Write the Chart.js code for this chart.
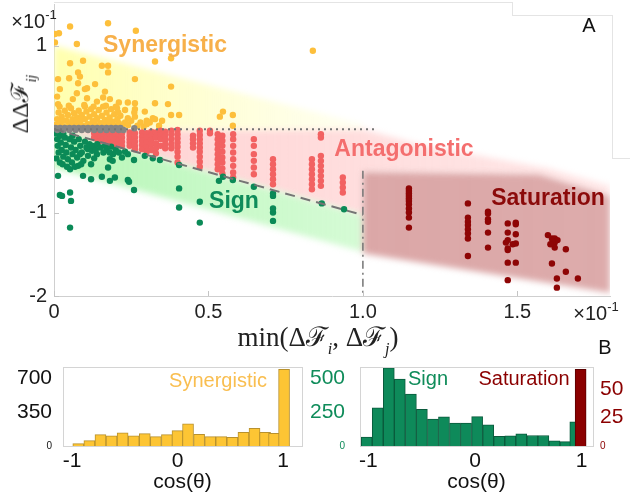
<!DOCTYPE html>
<html>
<head>
<meta charset="utf-8">
<script src="https://cdn.jsdelivr.net/npm/chart.js@4.4.1/dist/chart.umd.min.js"></script>
<style>
  body { margin: 0; background: #fff; }
  #wrap { position: relative; width: 630px; height: 496px; overflow: hidden; font-family: "Liberation Sans", Arial, sans-serif; }
  canvas { position: absolute; }
  .lbl { position: absolute; white-space: nowrap; transform: translate(-50%, -50%); line-height: 1; }
  .sup { font-size: 13px; position: relative; top: -9px; }
  .math { font-family: "Liberation Serif", "DejaVu Serif", serif; color: #222; }
  .math sub { font-size: 60%; font-style: italic; position: relative; top: 2px; }
  .frame { position: absolute; border-color: #e4e4e4; border-style: solid; border-width: 0; }
</style>
</head>
<body>
<div id="wrap">
  <canvas id="main" width="630" height="330" style="left:0;top:0"></canvas>
  <canvas id="histL" width="315" height="141" style="left:0;top:355px"></canvas>
  <canvas id="histR" width="330" height="141" style="left:300px;top:355px"></canvas>

  <div class="frame" style="left:54px;top:2px;width:458px;height:13px;border-top-width:1px;border-right-width:1px"></div>
  <div class="frame" style="left:512px;top:15px;width:100px;height:143px;border-top-width:1px;border-right-width:1px"></div>
  <div class="frame" style="left:612px;top:158px;width:18px;height:0;border-top-width:1px"></div>

  <div class="lbl" style="left:34px;top:21px;font-size:20px;color:#222">×10<span class="sup">-1</span></div>
  <div class="lbl" style="left:596px;top:313px;font-size:20px;color:#222">×10<span class="sup">-1</span></div>
  <div class="lbl" style="left:589px;top:25px;font-size:20px;color:#111">A</div>
  <div class="lbl" style="left:605px;top:347px;font-size:20px;color:#111">B</div>

  <div class="lbl math" style="left:22px;top:104px;font-size:24px;transform:translate(-50%,-50%) rotate(-90deg)">ΔΔℱ<sub>ij</sub></div>
  <div class="lbl math" style="left:318px;top:340px;font-size:27px">min(Δℱ<sub>i</sub>, Δℱ<sub>j</sub>)</div>

  <div class="lbl" style="left:165px;top:44px;font-size:23px;font-weight:bold;color:#F7B04A">Synergistic</div>
  <div class="lbl" style="left:404px;top:148px;font-size:23px;font-weight:bold;color:#F46E6E">Antagonistic</div>
  <div class="lbl" style="left:234px;top:200px;font-size:23px;font-weight:bold;color:#0F8C5A">Sign</div>
  <div class="lbl" style="left:548px;top:197px;font-size:23px;font-weight:bold;color:#8B0A0A">Saturation</div>

  <div class="lbl" style="left:218px;top:380px;font-size:20px;color:#F9BE50">Synergistic</div>
  <div class="lbl" style="left:428px;top:378px;font-size:20px;color:#0F8C5A">Sign</div>
  <div class="lbl" style="left:524px;top:378px;font-size:20px;color:#8B0000">Saturation</div>
</div>

<script>
// axis ticks
const mainXTicks = [0, 0.5, 1, 1.5];
const mainYTicks = [-2, -1, 1];
const histXTicks = [-1, 0, 1];
const synHistTicks = [0, 350, 700];
const signHistTicks = [0, 250, 500];
const satHistTicks = [0, 25, 50];

// histogram bins (cos theta) and counts
const synBins = [-0.94, -0.835, -0.73, -0.625, -0.52, -0.415, -0.31, -0.205, -0.10, 0.0,
                 0.10, 0.205, 0.31, 0.415, 0.52, 0.625, 0.73, 0.83, 0.915, 1.01];
const synCounts = [24, 55, 117, 106, 137, 106, 127, 96, 117, 158,
                   230, 120, 96, 96, 89, 141, 182, 141, 130, 790];
const signBins = [-1.015, -0.912, -0.808, -0.705, -0.601, -0.498, -0.394, -0.291, -0.187, -0.084,
                  0.020, 0.124, 0.227, 0.331, 0.434, 0.538, 0.641, 0.745, 0.848, 0.94];
const signCounts = [66, 282, 578, 495, 385, 272, 199, 216, 169, 169,
                    218, 157, 71, 76, 90, 78, 78, 39, 32, 179];
const satBins = [0.99];
const satCounts = [67];

// region outlines (min dF, ddF)
const synergyBand = [[0, 0], [0, 1.0], [1.0, 0.06], [1.0, 0]];
const antagonismBand = [[0, 0], [1.0, 0], [1.2, -0.2], [1.6, -0.47], [1.8, -0.68], [1.8, -0.8],
                        [1.57, -0.54], [1.0, -0.51], [1.0, -1.03]];
const signBand = [[0, 0], [1.0, -1.03], [1.0, -1.47], [0, -0.46]];
const saturationBand = [[1.0, -0.51], [1.57, -0.54], [1.8, -0.8], [1.8, -1.96], [1.0, -1.49]];

// guide lines
const zeroLine = [[0, 0], [1.04, 0]];
const diagLine = [[0, 0], [1.0, -1.03]];
const cutLine = [[1.0, -0.5], [1.0, -2]];

// scatter points
const synergisticPts = [
  [0.003,1.14],[0.016,1.15],[0.052,1.23],[0.175,1.27],[0.265,1.18],[0.003,1.04],[0.074,1.02],[0.838,0.94],
  [0.052,0.79],[0.094,0.82],[0.155,0.76],[0.175,0.76],[0.175,0.68],[0.078,0.68],[0.084,0.63],[0.013,0.60],
  [0.049,0.61],[0.262,0.60],[0.327,0.81],[0.379,0.85],[0.379,0.51],[0.369,0.30],[0.078,0.55],[0.133,0.54],
  [0.107,0.49],[0.10,0.48],[0.019,0.48],[0.074,0.43],[0.165,0.45],[0.159,0.38],[0.01,0.39],[0.107,0.37],
  [0.139,0.33],[0.061,0.36],[0.21,0.32],[0.239,0.32],[0.262,0.31],[0.327,0.31],[0.181,0.36],[0.013,0.30],
  [0.10,0.27],[0.159,0.27],[0.204,0.25],[0.262,0.24],[0.23,0.23],[0.294,0.21],[0.32,0.13],[0.30,0.10],
  [0.239,0.13],[0.262,0.15],[0.379,0.17],[0.405,0.17],[0.547,0.21],[0.537,0.15],[0.579,0.17],[0.579,0.04],
  [0.31,0.08],[0.327,0.12],
  [0.005,0.05],[0.01,0.12],[0.015,0.2],[0.02,0.08],[0.025,0.15],[0.03,0.03],[0.035,0.22],[0.04,0.1],
  [0.045,0.17],[0.05,0.05],[0.055,0.25],[0.06,0.12],[0.065,0.19],[0.07,0.04],[0.075,0.14],[0.08,0.22],
  [0.085,0.08],[0.09,0.17],[0.095,0.03],[0.1,0.12],[0.105,0.21],[0.11,0.06],[0.115,0.15],[0.12,0.24],
  [0.125,0.09],[0.13,0.18],[0.135,0.04],[0.14,0.13],[0.145,0.23],[0.15,0.07],[0.155,0.16],[0.16,0.03],
  [0.165,0.11],[0.17,0.2],[0.175,0.06],[0.18,0.14],[0.185,0.24],[0.19,0.09],[0.195,0.18],[0.2,0.04],
  [0.205,0.12],[0.21,0.07],[0.215,0.16],[0.22,0.03],[0.012,0.03],[0.028,0.1],[0.042,0.02],[0.058,0.08],
  [0.072,0.1],[0.088,0.12],[0.102,0.04],[0.118,0.05],[0.132,0.1],[0.148,0.02],[0.162,0.08],[0.178,0.1],
  [0.192,0.03],[0.208,0.2],[0.018,0.27],[0.048,0.28],[0.098,0.29],[0.128,0.27],[0.168,0.28],[0.2,0.27],
  [0.23,0.08],[0.24,0.05],[0.25,0.1],[0.27,0.04],[0.28,0.08],[0.26,0.2],[0.29,0.03],[0.3,0.06],
  [0.34,0.04],[0.35,0.1]
];

const neutralPts = [
  [0.005,0.015],[0.02,0.015],[0.035,0.015],[0.05,0.015],[0.065,0.015],[0.08,0.015],[0.095,0.015],[0.11,0.015],
  [0.125,0.015],[0.14,0.015],[0.155,0.015],[0.17,0.015],[0.185,0.015],[0.2,0.015],[0.215,0.015],[0.26,0.01],
  [0.01,-0.01],[0.03,-0.01],[0.05,-0.01],[0.07,-0.01],[0.09,-0.01],[0.11,-0.01],[0.13,-0.01],[0.15,-0.01],
  [0.17,-0.01],[0.19,-0.01],[0.21,-0.01],[0.225,-0.01]
];

const antagonisticPts = [
  [0.13,-0.05],[0.13,-0.1],[0.14,-0.06],[0.14,-0.12],[0.15,-0.05],[0.15,-0.1],[0.15,-0.14],
  [0.16,-0.06],[0.16,-0.12],[0.17,-0.05],[0.17,-0.1],[0.17,-0.15],[0.18,-0.06],[0.18,-0.12],[0.18,-0.17],
  [0.19,-0.05],[0.19,-0.1],[0.19,-0.15],[0.2,-0.06],[0.2,-0.12],[0.2,-0.18],[0.21,-0.07],[0.21,-0.13],
  [0.21,-0.19],[0.22,-0.05],[0.22,-0.1],[0.22,-0.15],[0.22,-0.2],
  [0.245,-0.04],[0.245,-0.08],[0.245,-0.12],[0.245,-0.16],[0.245,-0.2],
  [0.262,-0.05],[0.262,-0.1],[0.262,-0.15],[0.262,-0.2],[0.262,-0.24],
  [0.285,-0.04],[0.285,-0.09],[0.285,-0.14],[0.285,-0.19],[0.285,-0.24],
  [0.3,-0.05],[0.3,-0.1],[0.3,-0.16],[0.3,-0.22],[0.3,-0.27],
  [0.315,-0.03],[0.315,-0.08],[0.315,-0.13],[0.315,-0.18],[0.315,-0.25],
  [0.33,-0.04],[0.33,-0.1],[0.33,-0.17],[0.33,-0.23],[0.33,-0.29],
  [0.345,-0.02],[0.345,-0.07],[0.345,-0.12],[0.345,-0.2],
  [0.36,-0.03],[0.36,-0.08],[0.36,-0.13],[0.36,-0.18],[0.36,-0.23],
  [0.38,-0.02],[0.38,-0.06],[0.38,-0.12],[0.38,-0.18],[0.38,-0.23],
  [0.40,-0.01],[0.40,-0.06],[0.40,-0.11],[0.40,-0.16],[0.40,-0.21],[0.40,-0.27],[0.40,-0.33],[0.40,-0.40],
  [0.45,-0.08],[0.45,-0.12],[0.45,-0.17],[0.45,-0.22],
  [0.472,-0.02],[0.472,-0.07],[0.472,-0.12],[0.472,-0.17],[0.472,-0.22],[0.472,-0.27],[0.472,-0.33],
  [0.472,-0.39],[0.472,-0.45],[0.505,-0.02],[0.505,-0.05],
  [0.53,-0.06],[0.53,-0.12],[0.53,-0.18],[0.53,-0.24],[0.53,-0.3],[0.53,-0.36],[0.53,-0.42],[0.53,-0.48],
  [0.545,-0.08],[0.545,-0.14],[0.545,-0.2],[0.545,-0.27],[0.545,-0.34],[0.545,-0.4],[0.545,-0.47],[0.545,-0.53],
  [0.58,-0.06],[0.58,-0.12],[0.58,-0.2],[0.58,-0.28],[0.58,-0.36],[0.58,-0.44],[0.58,-0.52],[0.58,-0.58],
  [0.647,-0.12],[0.647,-0.2],[0.647,-0.3],[0.647,-0.38],[0.647,-0.46],[0.647,-0.54],
  [0.709,-0.36],[0.709,-0.42],[0.709,-0.48],[0.709,-0.54],[0.709,-0.6],[0.709,-0.66],
  [0.835,-0.36],[0.835,-0.42],[0.835,-0.48],[0.835,-0.54],[0.835,-0.6],[0.835,-0.66],[0.835,-0.72],
  [0.864,-0.06],[0.864,-0.1],[0.864,-0.32],[0.864,-0.38],[0.864,-0.44],[0.864,-0.5],[0.864,-0.56],
  [0.864,-0.62],[0.864,-0.68],
  [0.935,-0.58],[0.935,-0.64],[0.935,-0.7],[0.935,-0.76]
];

const signPts = [
  [0.013,-0.56],[0.019,-0.79],[0.026,-0.80],[0.052,-0.76],[0.055,-0.86],[0.052,-1.18],[0.094,-0.56],
  [0.12,-0.60],[0.155,-0.57],[0.181,-0.62],[0.197,-0.58],[0.175,-0.46],[0.239,-0.61],[0.243,-0.63],
  [0.259,-0.73],[0.052,-0.48],[0.078,-0.44],[0.019,-0.40],[0.058,-0.40],[0.084,-0.30],[0.139,-0.30],
  [0.181,-0.36],[0.191,-0.30],[0.239,-0.30],[0.259,-0.37],[0.11,-0.24],[0.123,-0.26],[0.294,-0.32],
  [0.32,-0.35],[0.343,-0.37],[0.405,-0.43],[0.405,-0.71],[0.405,-0.94],[0.472,-0.87],
  [0.472,-1.12],[0.534,-0.62],[0.547,-0.57],[0.579,-0.61],[0.647,-0.69],[0.709,-0.77],[0.709,-0.80],
  [0.709,-0.95],[0.709,-1.0],[0.709,-1.10],[0.867,-0.89],[0.939,-0.96],
  [0.005,-0.05],[0.01,-0.12],[0.012,-0.2],[0.015,-0.28],[0.02,-0.08],[0.022,-0.16],[0.025,-0.25],
  [0.03,-0.33],[0.035,-0.1],[0.038,-0.19],[0.04,-0.28],[0.045,-0.36],[0.05,-0.12],[0.055,-0.22],
  [0.06,-0.3],[0.065,-0.15],[0.07,-0.25],[0.075,-0.34],[0.08,-0.12],[0.085,-0.2],[0.09,-0.28],
  [0.095,-0.38],[0.1,-0.15],[0.105,-0.22],[0.11,-0.32],[0.115,-0.18],[0.12,-0.42],[0.125,-0.2],
  [0.13,-0.35],[0.135,-0.25],[0.14,-0.18],[0.15,-0.22],[0.16,-0.28],[0.165,-0.2],[0.17,-0.25],
  [0.18,-0.28],[0.185,-0.21],[0.19,-0.38],[0.2,-0.25],[0.21,-0.28],[0.22,-0.34],[0.23,-0.27],
  [0.008,-0.35],[0.028,-0.42],[0.042,-0.45],[0.068,-0.45],[0.088,-0.42],[0.03,-0.05],[0.06,-0.08],
  [0.018,-0.03]
];

const saturationPts = [
  [1.149,-0.71],[1.149,-0.74],[1.149,-0.77],[1.149,-0.80],[1.149,-0.83],[1.149,-0.86],[1.149,-0.90],
  [1.149,-0.95],[1.149,-1.00],[1.149,-1.06],[1.149,-1.18],
  [1.34,-0.89],[1.34,-1.06],[1.34,-1.11],[1.34,-1.15],[1.34,-1.20],[1.34,-1.25],[1.34,-1.31],[1.34,-1.52],
  [1.405,-0.99],[1.405,-1.01],[1.405,-1.08],[1.405,-1.11],[1.405,-1.24],[1.405,-1.42],
  [1.469,-1.13],[1.469,-1.24],[1.469,-1.33],[1.469,-1.43],[1.469,-1.45],[1.469,-1.60],[1.469,-1.81],
  [1.463,-1.36],[1.495,-1.12],[1.495,-1.14],[1.495,-1.26],[1.495,-1.37],[1.495,-1.60],[1.485,-1.38],
  [1.599,-1.27],[1.612,-1.31],[1.612,-1.61],[1.621,-1.31],[1.621,-1.36],[1.621,-1.42],[1.63,-1.33],
  [1.615,-1.35],[1.607,-1.38],[1.628,-1.79],[1.628,-1.90],[1.657,-1.44],[1.657,-1.71],[1.696,-1.79]
];

const toXY = pairs => pairs.map(([x, y]) => ({ x, y }));
const sans = '"Liberation Sans", Arial, sans-serif';
Chart.defaults.font.family = sans;

function pointSet(pairs, color, order) {
  return { data: toXY(pairs), backgroundColor: color, borderWidth: 0, pointRadius: 3.2, order };
}
function guideSet(pairs, dash, width) {
  return { data: toXY(pairs), showLine: true, borderColor: '#757575', borderWidth: width,
           borderDash: dash, pointRadius: 0, fill: false, order: 0 };
}

const bands = [
  { pts: antagonismBand, from: 0, to: 1.8, c0: 'rgba(255,200,200,0.85)', c1: 'rgba(255,212,212,0.55)' },
  { pts: synergyBand, from: 0, to: 1.0, c0: 'rgba(255,255,165,0.9)', c1: 'rgba(255,255,200,0.25)' },
  { pts: signBand, from: 0, to: 1.0, c0: 'rgba(170,245,170,0.85)', c1: 'rgba(185,248,185,0.6)' },
  { pts: saturationBand, from: 1, to: 1.8, c0: 'rgba(200,120,120,0.65)', c1: 'rgba(200,120,120,0.62)' }
];

const bandPlugin = {
  id: 'bands',
  beforeDatasetsDraw(chart) {
    const { ctx, chartArea: a, scales: { x, y } } = chart;
    ctx.save();
    ctx.beginPath();
    ctx.rect(a.left, a.top, a.width, a.height);
    ctx.clip();
    ctx.filter = 'blur(3px)';
    bands.forEach(b => {
      ctx.beginPath();
      b.pts.forEach(([vx, vy], i) => {
        const px = x.getPixelForValue(vx), py = y.getPixelForValue(vy);
        if (i) ctx.lineTo(px, py); else ctx.moveTo(px, py);
      });
      ctx.closePath();
      const g = ctx.createLinearGradient(x.getPixelForValue(b.from), 0, x.getPixelForValue(b.to), 0);
      g.addColorStop(0, b.c0);
      g.addColorStop(1, b.c1);
      ctx.fillStyle = g;
      ctx.fill();
    });
    ctx.restore();
  }
};

// small inward tick marks, MATLAB style
const innerTicks = {
  id: 'innerTicks',
  afterDraw(chart) {
    const { ctx, chartArea: a, scales: { x, y } } = chart;
    ctx.save();
    ctx.strokeStyle = '#c4c4c4';
    ctx.lineWidth = 1;
    x.ticks.forEach(t => {
      const px = Math.round(x.getPixelForValue(t.value)) + 0.5;
      ctx.beginPath(); ctx.moveTo(px, a.bottom); ctx.lineTo(px, a.bottom - 5); ctx.stroke();
    });
    y.ticks.forEach(t => {
      const py = Math.round(y.getPixelForValue(t.value)) + 0.5;
      ctx.beginPath(); ctx.moveTo(a.left, py); ctx.lineTo(a.left + 5, py); ctx.stroke();
    });
    ctx.restore();
  }
};

const boxFrame = {
  id: 'boxFrame',
  afterDraw(chart) {
    const { ctx, chartArea: a } = chart;
    ctx.save();
    ctx.strokeStyle = '#d4d4d4';
    ctx.lineWidth = 1;
    ctx.strokeRect(Math.round(a.left) + 0.5, Math.round(a.top) + 0.5, Math.round(a.width), Math.round(a.height));
    ctx.restore();
  }
};

const fixedTicks = arr => s => { s.ticks = arr.map(v => ({ value: v })); };
// fixed box width, no extra room for the end labels
const fixWidth = w => s => { s.width = w; s.paddingTop = 0; s.paddingBottom = 0; };

new Chart(document.getElementById('main'), {
  type: 'scatter',
  data: {
    datasets: [
      guideSet(zeroLine, [2, 4], 2),
      guideSet(diagLine, [10, 6], 2),
      guideSet(cutLine, [8, 4, 2, 4], 1.5),
      pointSet(neutralPts, '#858585', 1),
      pointSet(saturationPts, '#8E0505', 2),
      pointSet(signPts, '#0B8A57', 3),
      pointSet(antagonisticPts, '#F26262', 4),
      pointSet(synergisticPts, '#FDBF3B', 5)
    ]
  },
  options: {
    responsive: false, animation: false, devicePixelRatio: 1,
    layout: { padding: { top: 2, right: 20, left: 0, bottom: 0 } },
    plugins: { legend: { display: false }, tooltip: { enabled: false } },
    scales: {
      x: {
        type: 'linear', min: 0, max: 1.8,
        afterFit: s => { s.height = 34; },
        afterBuildTicks: fixedTicks(mainXTicks),
        grid: { display: false, drawTicks: false },
        border: { color: '#cfcfcf' },
        ticks: { font: { size: 20 }, color: '#222', padding: 4 }
      },
      y: {
        type: 'linear', min: -2, max: 1.5,
        afterFit: fixWidth(54),
        afterBuildTicks: fixedTicks(mainYTicks),
        grid: { display: false, drawTicks: false },
        border: { color: '#cfcfcf' },
        ticks: { font: { size: 20 }, color: '#222', padding: 7 }
      }
    }
  },
  plugins: [bandPlugin, innerTicks]
});

const smallZero = size => c => ({ size: c.tick && c.tick.value === 0 ? 10 : size });

function histX(min, max) {
  return {
    type: 'linear', min, max, offset: false,
    afterFit: s => { s.height = 50; },
    afterBuildTicks: fixedTicks(histXTicks),
    grid: { display: false, drawTicks: false, offset: false },
    border: { display: false },
    ticks: { font: { size: 21 }, color: '#111', padding: 3 },
    title: { display: true, text: 'cos(θ)', font: { size: 21 }, color: '#111', padding: { top: 0, bottom: 1 } }
  };
}

new Chart(document.getElementById('histL'), {
  type: 'bar',
  data: {
    datasets: [{
      data: synBins.map((x, i) => ({ x, y: synCounts[i] })),
      backgroundColor: '#FDC534', borderColor: '#B8912E', borderWidth: 1, barThickness: 11
    }]
  },
  options: {
    responsive: false, animation: false, devicePixelRatio: 1,
    layout: { padding: { top: 12, right: 13, left: 0, bottom: 0 } },
    plugins: { legend: { display: false }, tooltip: { enabled: false } },
    scales: {
      x: histX(-1.085, 1.18),
      y: {
        min: 0, max: 815,
        afterFit: fixWidth(63),
        afterBuildTicks: fixedTicks(synHistTicks),
        grid: { display: false, drawTicks: false },
        border: { display: false },
        ticks: { font: smallZero(21), color: '#111', padding: 11 }
      }
    }
  },
  plugins: [boxFrame]
});

new Chart(document.getElementById('histR'), {
  type: 'bar',
  data: {
    datasets: [
      {
        data: satBins.map((x, i) => ({ x, y: satCounts[i] })), yAxisID: 'y2', order: 0,
        backgroundColor: '#8B0000', borderColor: '#5A0000', borderWidth: 1, barThickness: 11
      },
      {
        data: signBins.map((x, i) => ({ x, y: signCounts[i] })), yAxisID: 'y', order: 1,
        backgroundColor: '#0E8A5A', borderColor: '#0A5A3C', borderWidth: 1, barThickness: 11
      }
    ]
  },
  options: {
    responsive: false, animation: false, devicePixelRatio: 1,
    datasets: { bar: { grouped: false } },
    layout: { padding: { top: 12, right: 0, left: 0, bottom: 0 } },
    plugins: { legend: { display: false }, tooltip: { enabled: false } },
    scales: {
      x: histX(-1.078, 1.106),
      y: {
        position: 'left', min: 0, max: 585,
        afterFit: fixWidth(60),
        afterBuildTicks: fixedTicks(signHistTicks),
        grid: { display: false, drawTicks: false },
        border: { display: false },
        ticks: { font: smallZero(21), color: '#0F8C5A', padding: 15 }
      },
      y2: {
        position: 'right', min: 0, max: 69,
        afterFit: fixWidth(37),
        afterBuildTicks: fixedTicks(satHistTicks),
        grid: { display: false, drawTicks: false },
        border: { display: false },
        ticks: { font: smallZero(21), color: '#8B0000', padding: 7 }
      }
    }
  },
  plugins: [boxFrame]
});
</script>
</body>
</html>
